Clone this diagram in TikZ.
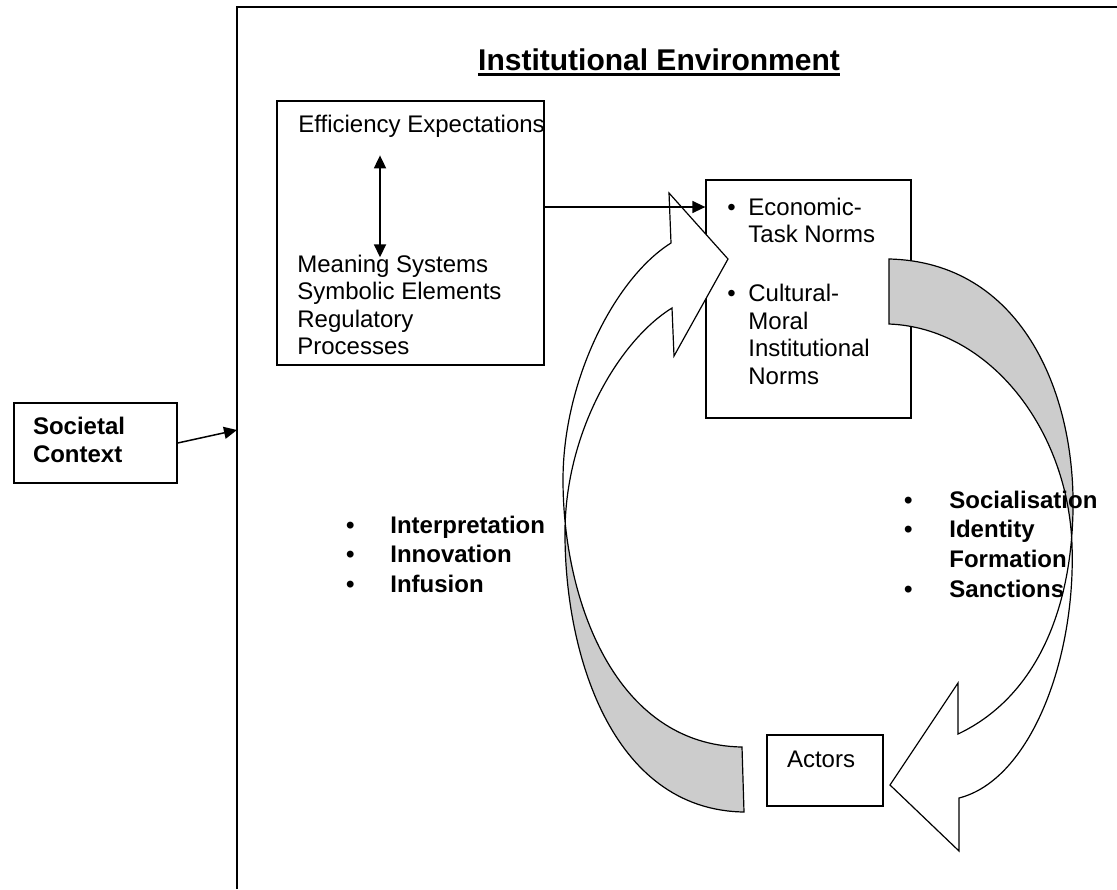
\documentclass[tikz,border=0pt]{standalone}
\usepackage{fontspec}
\setmainfont{Liberation Sans}
\usetikzlibrary{positioning, arrows.meta, calc}
\tikzset{every node/.style={ % Text sits exactly where it is put
inner sep=0pt,
font=\fontsize{12}{13.8}\selectfont},
box/.style={ % Sets the properties for each text box
draw, fill=white, line width=0.65pt},
list/.style={ % Bold bullet lists beside the cycle
anchor=base west, font=\fontsize{12}{14.9}\selectfont\bfseries},
ribbon/.style={draw, line width=0.6pt, line join=miter}, % Outline of the curved block arrows
back/.style={fill=black!20}, % Shaded underside of the curved block arrows
>={Triangle[length=6.5pt, width=6pt]}, % Filled arrow heads
every edge/.style={ % Sets the properties for each connector
draw, ->, line width=0.75pt}}

\begin{document}
\begin{tikzpicture}[x=0.5pt, y=-0.5pt]
    \useasboundingbox (0,0) rectangle (1117,889);

    % frame of the institutional environment
    \draw[line width=0.65pt] (237,889) -- (237,7) -- (1117,7);
    \coordinate (envin) at (237,430);
    \coordinate (arrowy) at (0,207);
    \node[anchor=base, font=\fontsize{15}{18}\selectfont\bfseries] (title) at (659,70) {Institutional Environment};
    \draw[line width=1.2pt] ([yshift=-2.2pt]title.base west) -- ([yshift=-2.2pt]title.base east);

    \node[box, align=left, text width=62.5pt, inner xsep=9.5pt, minimum height=40pt, text depth=16.75pt, font=\fontsize{12}{13.8}\selectfont\bfseries] (societal) at (95.5,443) {Societal\\Context};

    \node[box, minimum width=133.5pt, minimum height=132pt] (effbox) at (410.5,233) {};
    \node[anchor=base west] (effexp) at (298,132) {Efficiency Expectations};
    \node[anchor=base west] (meaning) at (297,272) {\begin{tabular}[t]{@{}l@{}}Meaning Systems\\Symbolic Elements\\Regulatory\\Processes\end{tabular}};

    \node[box, minimum width=102.5pt, minimum height=119pt] (norms) at (808.5,299) {};
    \node[anchor=base west] (normlist) at (727,215) {\begin{tabular}[t]{@{}l@{\hspace{6.3pt}}l@{}}\textbullet & Economic-\\ & Task Norms\\[15.7pt] \textbullet & Cultural-\\ & Moral\\ & Institutional\\ & Norms\end{tabular}};

    \node[box, align=left, text width=38pt, inner xsep=10pt, minimum height=35.5pt, text depth=11pt] (actors) at (825,770.5) {Actors};

    % curved block arrows of the cycle
    \def\leftribbon{(742,747) .. controls (615,745) and (563,600) .. (563,480) .. controls (563,380) and (615,278) .. (671,243) -- (669,193) -- (728,259) -- (674,356) -- (672,308) .. controls (620,340) and (566,430) .. (565,530) .. controls (564,650) and (610,810) .. (744,812) -- cycle}
    \def\rightribbon{(889,259) .. controls (1020,262) and (1075,390) .. (1073,510) .. controls (1071,620) and (1030,700) .. (958,734) -- (958,683) -- (890,785) -- (959,851) -- (959,798) .. controls (1030,780) and (1076,660) .. (1072,545) .. controls (1068,430) and (990,328) .. (889,324) -- cycle}

    \fill[white] \leftribbon;
    \begin{scope}
        \clip (540,522) rectangle (760,840);
        \fill[back] \leftribbon;
    \end{scope}
    \draw[ribbon] \leftribbon;

    \fill[white] \rightribbon;
    \begin{scope}
        \clip (880,240) rectangle (1090,536);
        \fill[back] \rightribbon;
    \end{scope}
    \draw[ribbon] \rightribbon;

    \node[list] (interp) at (345.8,533) {\begin{tabular}[t]{@{}l@{\hspace{17.9pt}}l@{}}\textbullet & Interpretation\\ \textbullet & Innovation\\ \textbullet & Infusion\end{tabular}};
    \node[list] (social) at (903.8,508) {\begin{tabular}[t]{@{}l@{\hspace{18.4pt}}l@{}}\textbullet & Socialisation\\ \textbullet & Identity\\ & Formation\\ \textbullet & Sanctions\end{tabular}};

    % connectors
    \draw (societal.east) edge (envin);
    \draw (effbox.east |- arrowy) edge (norms.west |- arrowy);
    \draw[<->, line width=0.9pt] ($(effexp.south west)+(82,18)$) -- ($(meaning.north west)+(83,5)$);

\end{tikzpicture}
\end{document}
